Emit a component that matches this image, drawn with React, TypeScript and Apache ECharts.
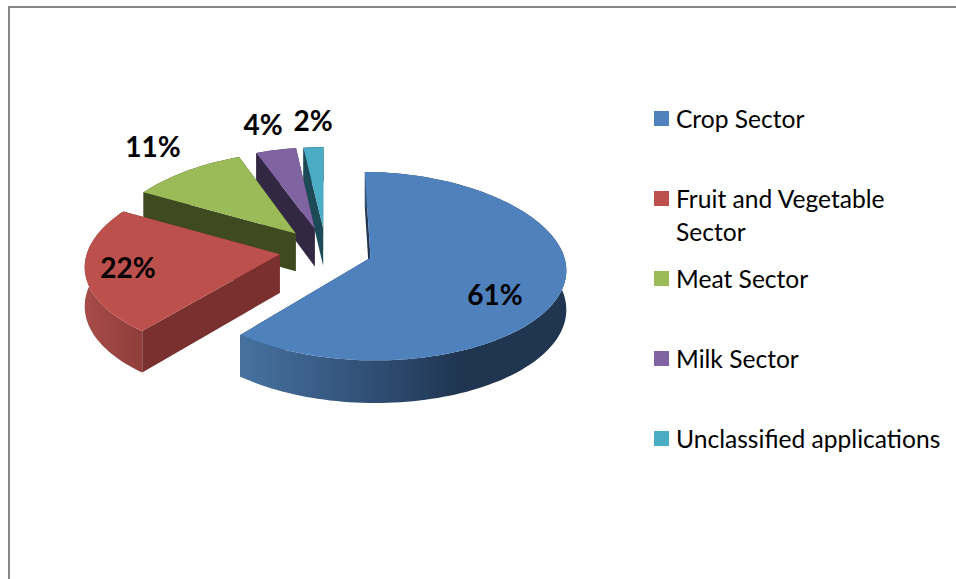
import React, { useEffect, useRef } from "react";
import * as echarts from "echarts";

const categories = ["Crop Sector", "Fruit and Vegetable Sector", "Meat Sector", "Milk Sector", "Unclassified applications"];
const legendLabels = ["Crop Sector", "\nFruit and Vegetable\nSector", "Meat Sector", "Milk Sector", "Unclassified applications"];
const values = [61, 22, 11, 4, 2];
const percentLabels = ["61%", "22%", "11%", "4%", "2%"];
const topColors = ["#4F81BD", "#BC504C", "#9BBB59", "#8064A2", "#4BACC6"];
const edgeColors = ["#1F3550", "#7A302E", "#404A20", "#332843", "#1D4A57"];
const rimStops = [
  [[0, "#47729F"], [0.42, "#2F4D73"], [0.68, "#1F3550"], [1, "#1F3550"]],
  [[0, "#A84C48"], [1, "#8E3D3B"]],
  [[0, "#404A20"], [1, "#404A20"]],
  [[0, "#332843"], [1, "#332843"]],
  [[0, "#1D4A57"], [1, "#1D4A57"]],
];

// Page layout of the texts and legend rows
const labelAt = [[495, 294], [128, 267], [153, 146], [263, 124], [313, 120]];
const legendCentreY = [117.5, 197.5, 277.5, 357.5, 437.5];

// Perspective of the pie
const CX = 326, CY = 250, RX = 192, RY = 92, K = 0.09, EXPLODE = 0.244, DEPTH = 38.5;
const total = values.reduce((a, b) => a + b, 0);

function sliceAngles(i: number) {
  const before = values.slice(0, i).reduce((a, b) => a + b, 0);
  return [(before / total) * 2 * Math.PI, ((before + values[i]) / total) * 2 * Math.PI];
}

function project(mid: number, r: number, t: number, down: number) {
  const X = EXPLODE * Math.sin(mid) + r * Math.sin(t);
  const Y = -EXPLODE * Math.cos(mid) - r * Math.cos(t);
  const s = 1 / (1 - K * Y);
  const sx = 1 + 0.12 * Y - 0.01 * Y * Y;
  return [CX + RX * X * sx, CY + RY * Y * s + down * DEPTH * s];
}

function renderSlice(i: number) {
  return () => {
    const [a0, a1] = sliceAngles(i);
    const mid = (a0 + a1) / 2;
    const n = Math.max(4, Math.ceil((a1 - a0) / 0.03));
    const top: number[][] = [];
    const bottom: number[][] = [];
    for (let k = 0; k <= n; k++) {
      const t = a0 + ((a1 - a0) * k) / n;
      top.push(project(mid, 1, t, 0));
      bottom.push(project(mid, 1, t, 1));
    }
    const apexTop = project(mid, 0, 0, 0);
    const apexBottom = project(mid, 0, 0, 1);
    const poly = (points: number[][], fill: any) => ({
      type: "polygon",
      shape: { points },
      style: { fill, stroke: "none" },
    });
    const edge = edgeColors[i];
    return {
      type: "group",
      children: [
        poly([apexTop, top[n], bottom[n], apexBottom], edge),
        poly([apexTop, top[0], bottom[0], apexBottom], edge),
        poly([...top, ...bottom.slice().reverse()], {
          type: "linear", x: 0, y: 0, x2: 1, y2: 0,
          colorStops: rimStops[i].map(([offset, color]) => ({ offset, color })),
        }),
        poly([apexTop, ...top], topColors[i]),
        {
          type: "text",
          x: labelAt[i][0],
          y: labelAt[i][1],
          style: {
            text: percentLabels[i],
            font: 'bold 28px Lato, "Open Sans", sans-serif',
            fill: "#000000",
            align: "center",
            verticalAlign: "middle",
          },
        },
      ],
    };
  };
}

export default function App() {
  const ref = useRef<HTMLDivElement>(null);
  useEffect(() => {
    const chart = echarts.init(ref.current!, null, { renderer: "svg" });
    const LINE = 33;
    chart.setOption({
      animation: false,
      backgroundColor: "#FFFFFF",
      legend: categories.map((name, i) => ({
        show: true,
        data: [{ name, icon: "rect" }],
        orient: "vertical",
        left: 654,
        top: legendCentreY[i] - (i === 1 ? (3 * LINE) / 2 : LINE / 2),
        itemWidth: 15,
        itemHeight: 15,
        itemGap: 0,
        padding: 0,
        selectedMode: false,
        formatter: () => legendLabels[i],
        textStyle: { fontFamily: "Lato, sans-serif", fontSize: 24.6, color: "#000000", lineHeight: LINE, padding: [0, 0, 2, 2] },
      })),
      graphic: [
        {
          type: "rect",
          silent: true,
          shape: { x: 9, y: 7, width: 1000, height: 700 },
          style: { fill: "none", stroke: "#868686", lineWidth: 2 },
        },
      ],
      series: categories.map((_, j) => categories.length - 1 - j).map((i) => ({
        type: "custom",
        name: categories[i],
        coordinateSystem: "none",
        silent: true,
        itemStyle: { color: topColors[i] },
        data: [[values[i]]],
        renderItem: renderSlice(i),
      })),
    });
    return () => chart.dispose();
  }, []);
  return <div ref={ref} style={{ position: "absolute", left: 0, top: 0, width: 956, height: 579 }} />;
}
